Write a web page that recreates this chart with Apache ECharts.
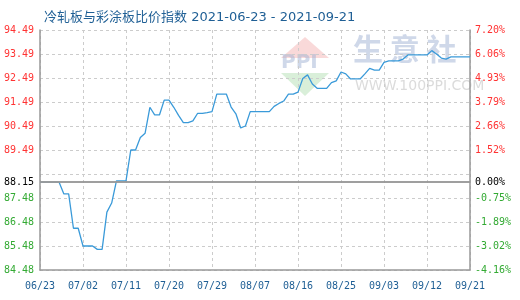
<!DOCTYPE html>
<html>
<head>
<meta charset="utf-8">
<script src="https://cdn.jsdelivr.net/npm/echarts@6/dist/echarts.min.js"></script>
<style>html,body{margin:0;padding:0;background:#fff;}#c{width:520px;height:300px;}</style>
</head>
<body>
<div id="c"></div>
<script>
var titleText = '冷轧板与彩涂板比价指数 2021-06-23 - 2021-09-21';
var startDate = '2021-06-23';
var dayCount = 91;
var values = [
  88.15, 88.15, 88.15, 88.15, 88.15, 87.66, 87.66, 86.23, 86.23, 85.49,
  85.49, 85.49, 85.35, 85.35, 86.90, 87.28, 88.20, 88.20, 88.20, 89.49,
  89.49, 90.01, 90.19, 91.27, 90.95, 90.95, 91.57, 91.57, 91.27, 90.93,
  90.63, 90.63, 90.70, 91.02, 91.02, 91.05, 91.09, 91.82, 91.82, 91.82,
  91.28, 91.00, 90.41, 90.49, 91.09, 91.09, 91.09, 91.09, 91.09, 91.31,
  91.43, 91.53, 91.82, 91.82, 91.90, 92.47, 92.62, 92.24, 92.06, 92.06,
  92.06, 92.30, 92.37, 92.74, 92.66, 92.45, 92.45, 92.45, 92.66, 92.89,
  92.82, 92.82, 93.14, 93.20, 93.20, 93.20, 93.28, 93.45, 93.45, 93.45,
  93.45, 93.45, 93.63, 93.49, 93.32, 93.28, 93.37, 93.37, 93.37, 93.37,
  93.37
];
var baseValue = 88.15;
var baseLeftLabel = '88.15';
var baseRightLabel = '0.00%';
var yMin = 84.49, yMax = 94.49, yStep = 1;
var leftLabels = ['84.48', '85.48', '86.48', '87.48', '', '89.49', '90.49', '91.49', '92.49', '93.49', '94.49'];
var rightLabels = ['-4.16%', '-3.02%', '-1.89%', '-0.75%', '', '1.52%', '2.66%', '3.79%', '4.93%', '6.06%', '7.20%'];

function pad(n){return n < 10 ? '0' + n : '' + n;}
var categories = [];
(function(){
  var d = new Date(startDate + 'T00:00:00Z');
  for (var i = 0; i < dayCount; i++) {
    var t = new Date(d.getTime() + i * 86400000);
    categories.push(pad(t.getUTCMonth() + 1) + '/' + pad(t.getUTCDate()));
  }
})();

var mono = 'DejaVu Sans Mono';
function sideLabel(arr){
  return function(v, idx){
    var i = Math.round(v - yMin);
    var s = arr[i];
    if (!s) return '';
    return (i > 4 ? '{r|' : '{g|') + s + '}';
  };
}
var rich = {
  r: {color: '#ff3333', fontFamily: mono, fontSize: 10},
  g: {color: '#33aa33', fontFamily: mono, fontSize: 10}
};

var chart = echarts.init(document.getElementById('c'), null, {renderer: 'canvas'});
chart.setOption({
  animation: false,
  backgroundColor: '#fff',
  title: {
    text: titleText,
    left: 39, top: 6,
    textStyle: {color: '#1f5f95', fontSize: 13, fontWeight: 'normal', fontFamily: '"DejaVu Sans", "Noto Sans CJK SC"'}
  },
  graphic: [
    {type: 'polygon', silent: true, z: 0, shape: {points: [[305, 37], [281, 58], [329, 58]]}, style: {fill: 'rgba(240,160,160,0.4)'}},
    {type: 'text', silent: true, z: 0, left: 281, top: 53, style: {text: 'PPI', fill: 'rgba(160,178,212,0.5)', font: 'bold 20px "DejaVu Sans"'}},
    {type: 'polygon', silent: true, z: 0, shape: {points: [[281, 73], [329, 73], [305, 96]]}, style: {fill: 'rgba(160,215,160,0.4)'}},
    {type: 'text', silent: true, z: 0, left: 353, top: 34, style: {text: '生 意 社', fill: 'rgba(160,178,212,0.5)', font: 'bold 30px "Noto Sans CJK SC"'}},
    {type: 'text', silent: true, z: 0, left: 355, top: 79, style: {text: 'WWW.100PPI.COM', fill: 'rgba(190,190,190,0.55)', font: '14px "DejaVu Sans"'}}
  ],
  grid: {left: 40, right: 50, top: 30, bottom: 30, containLabel: false},
  xAxis: {
    type: 'category',
    data: categories,
    boundaryGap: false,
    axisLine: {show: true, lineStyle: {color: '#999', width: 1.5}},
    axisTick: {show: false},
    axisLabel: {interval: 8, color: '#1f5f95', fontFamily: mono, fontSize: 10, margin: 11},
    splitLine: {show: true, interval: 8, lineStyle: {color: '#ccc', type: [3, 3]}}
  },
  yAxis: [
    {
      type: 'value', position: 'left', min: yMin, max: yMax, interval: yStep,
      axisLine: {show: true, lineStyle: {color: '#999', width: 1.5}},
      axisTick: {show: false},
      axisLabel: {formatter: sideLabel(leftLabels), rich: rich, margin: 6},
      splitLine: {show: true, lineStyle: {color: '#ccc', type: [3, 3]}}
    },
    {
      type: 'value', position: 'right', min: yMin, max: yMax, interval: yStep,
      axisLine: {show: true, lineStyle: {color: '#999', width: 1.5}},
      axisTick: {show: false},
      axisLabel: {formatter: sideLabel(rightLabels), rich: rich, margin: 5},
      splitLine: {show: false}
    }
  ],
  series: [{
    type: 'line',
    data: values,
    yAxisIndex: 0,
    symbol: 'none',
    lineStyle: {color: '#3a9ad9', width: 1.3},
    z: 3,
    markLine: {
      silent: true,
      symbol: 'none',
      lineStyle: {color: '#999', type: 'solid', width: 1.5},
      data: [
        {yAxis: baseValue, label: {show: true, position: 'start', formatter: baseLeftLabel, color: '#000', fontFamily: mono, fontSize: 10, distance: 6}},
        {yAxis: baseValue, label: {show: true, position: 'end', formatter: baseRightLabel, color: '#000', fontFamily: mono, fontSize: 10, distance: 5}}
      ]
    }
  }]
});
</script>
</body>
</html>
